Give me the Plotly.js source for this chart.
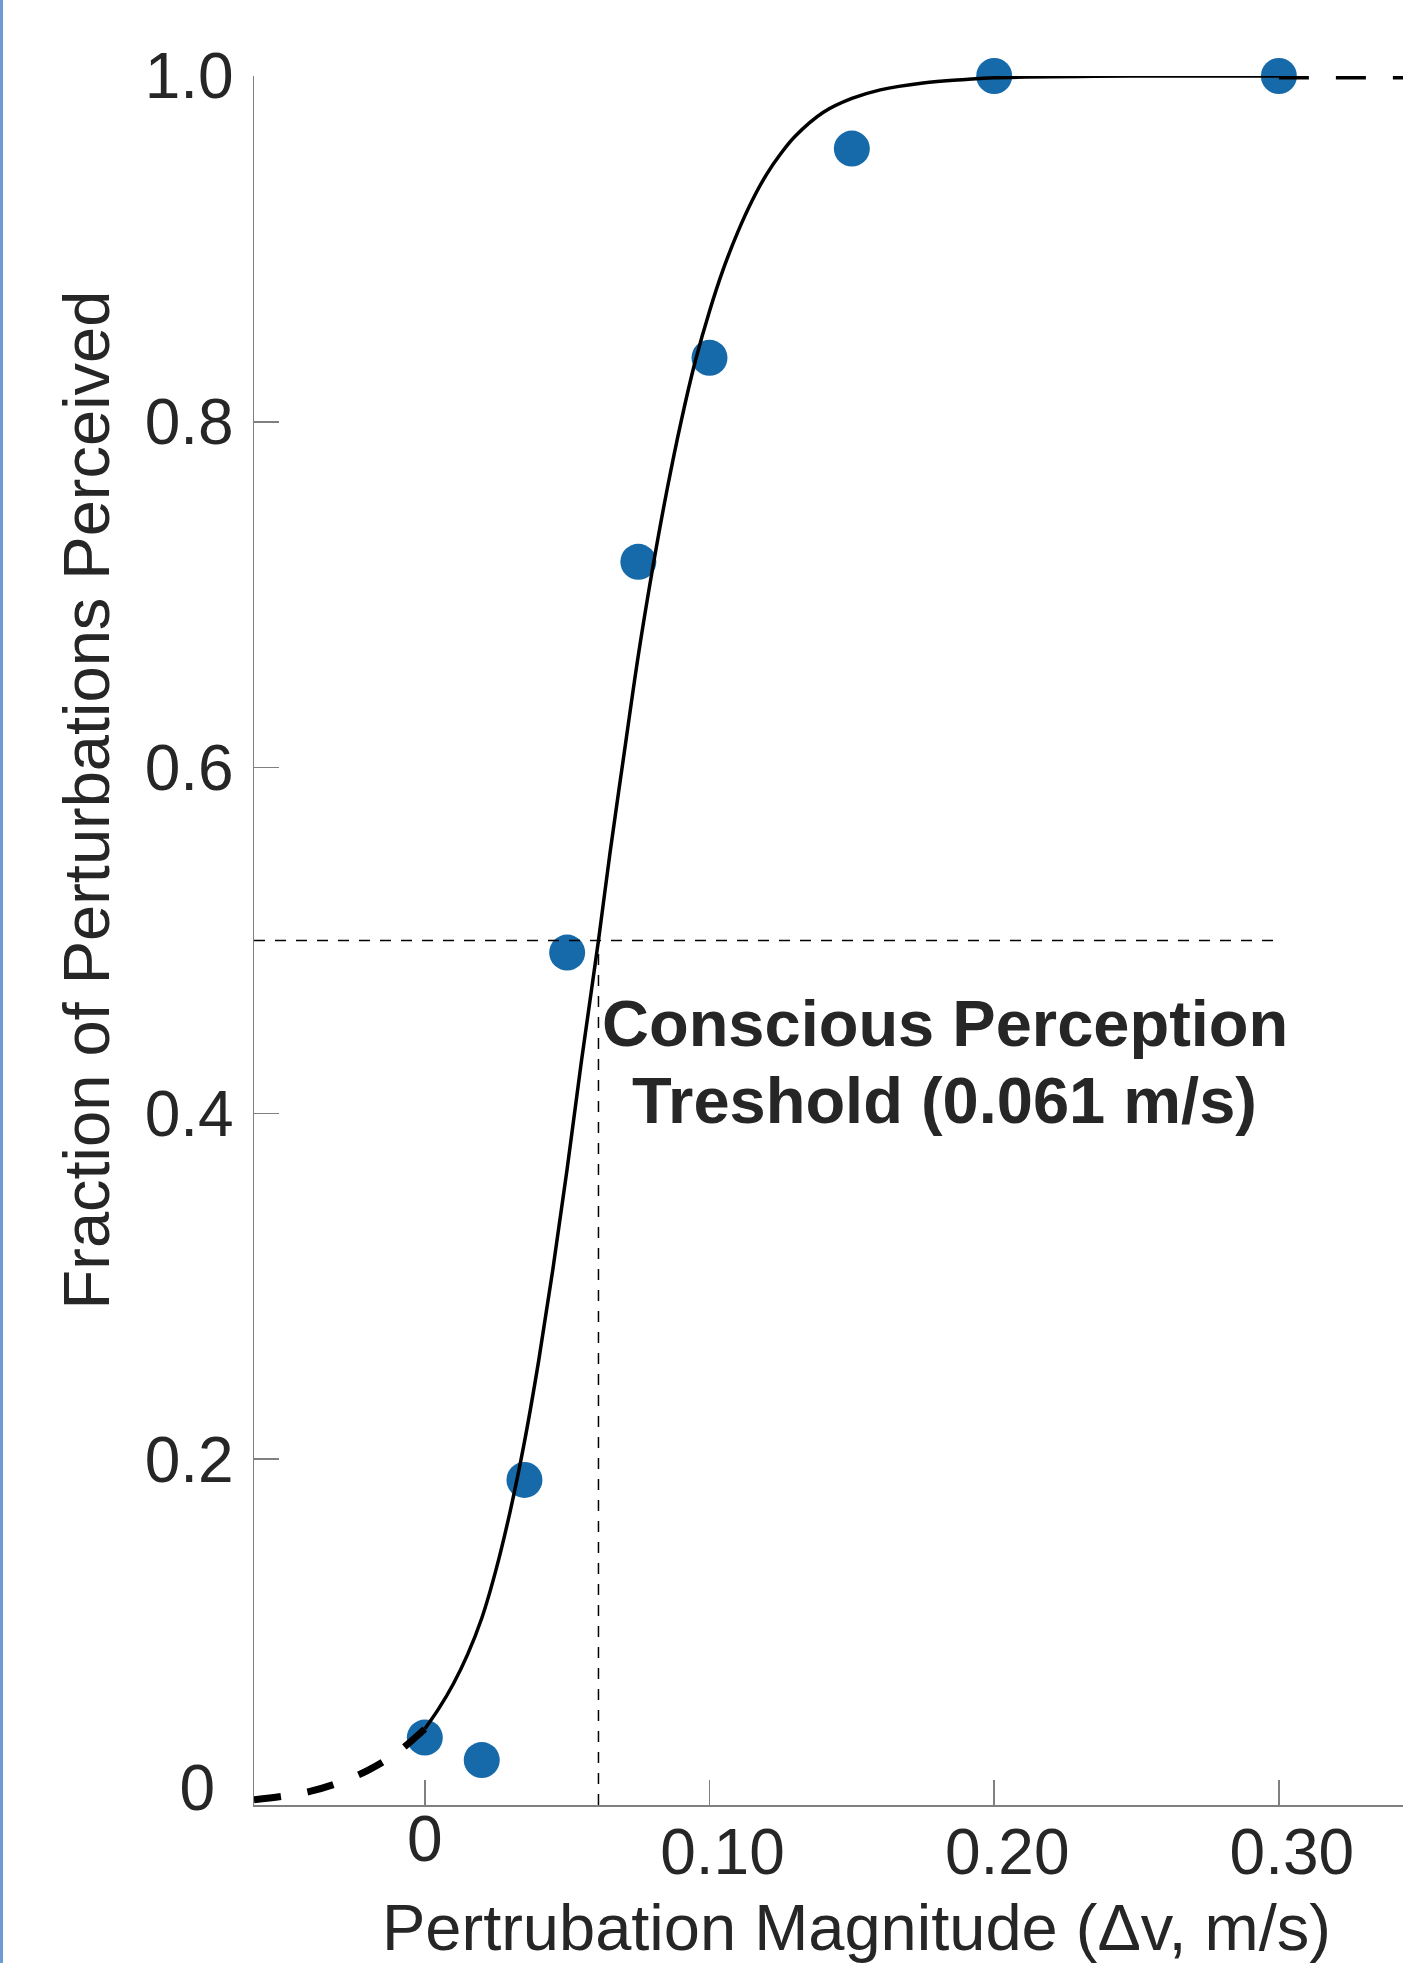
<!DOCTYPE html>
<html>
<head>
<meta charset="utf-8">
<script src="https://cdn.plot.ly/plotly-3.0.1.min.js"></script>
<style>html,body{margin:0;padding:0;background:#fff;}#chart{width:1403px;height:1963px;}</style>
</head>
<body>
<div id="chart"></div>
<script>
// ---- data ----
const magnitude = [0, 0.020, 0.035, 0.050, 0.075, 0.100, 0.150, 0.200, 0.300];
const fractionPerceived = [0.039, 0.026, 0.188, 0.493, 0.719, 0.837, 0.958, 1.0, 1.0];

const fitX = [0.000, 0.005, 0.010, 0.015, 0.020, 0.025, 0.030, 0.035, 0.040, 0.045, 0.050, 0.055, 0.061, 0.065, 0.070, 0.075,
              0.080, 0.085, 0.090, 0.095, 0.100, 0.105, 0.110, 0.115, 0.120, 0.125, 0.130, 0.140, 0.150, 0.160, 0.175, 0.190,
              0.200, 0.250, 0.300];
const fitY = [0.044, 0.056, 0.070, 0.087, 0.108, 0.136, 0.170, 0.210, 0.257, 0.310, 0.368, 0.430, 0.500, 0.550, 0.608, 0.665,
              0.715, 0.760, 0.800, 0.835, 0.864, 0.889, 0.910, 0.928, 0.943, 0.955, 0.965, 0.979, 0.987, 0.992, 0.996, 0.998,
              0.999, 1.000, 1.000];

const extLeftX = [-0.060, -0.050, -0.040, -0.030, -0.020, -0.010, 0.000];
const extLeftY = [0.003, 0.005, 0.008, 0.013, 0.020, 0.030, 0.044];
const extRightX = [0.300, 0.360];
const extRightY = [1.000, 1.000];

const threshold = 0.061;
const thresholdLevel = 0.5;

const xTickVals = [0.1, 0.2, 0.3];
const xTickText = ['0.10', '0.20', '0.30'];
const yTickVals = [0, 0.2, 0.4, 0.6, 0.8, 1.0];
const yTickText = ['', '0.2', '0.4', '0.6', '0.8', '1.0'];

const xTitle = 'Pertrubation Magnitude (\u0394v, m/s)';
const yTitle = 'Fraction of Perturbations Perceived';
const annotLine1 = 'Conscious Perception';
const annotLine2 = 'Treshold (' + threshold.toFixed(3) + ' m/s)';

// ---- layout constants ----
const W = 1403, H = 1963;
const M = {l: 254, r: 0, t: 76, b: 158};
const plotW = W - M.l - M.r, plotH = H - M.t - M.b;
const xRange = [-0.06, 0.3436];
const yRange = [0, 1];
const FONT = 'Liberation Sans, Arial, Helvetica, sans-serif';
const TXT = '#262626';
const AX = '#808080';

const traces = [
  {x: magnitude, y: fractionPerceived, type: 'scatter', mode: 'markers',
   marker: {size: 36, color: '#166aa9'}, cliponaxis: false, hoverinfo: 'skip'},
  {x: fitX, y: fitY, type: 'scatter', mode: 'lines', line: {color: '#000', width: 3.5, shape: 'spline', smoothing: 1},
   cliponaxis: false, hoverinfo: 'skip'},
  {x: extLeftX, y: extLeftY, type: 'scatter', mode: 'lines', xaxis: 'x2', yaxis: 'y2',
   line: {color: '#000', width: 7, dash: '27px,27px', shape: 'spline'}, cliponaxis: false, hoverinfo: 'skip'},
  {x: extRightX, y: extRightY, type: 'scatter', mode: 'lines',
   line: {color: '#000', width: 7, dash: '30px,27px'}, cliponaxis: false, hoverinfo: 'skip'},
  {x: [xRange[0], magnitude[magnitude.length - 1]], y: [thresholdLevel, thresholdLevel], type: 'scatter', mode: 'lines',
   line: {color: '#000', width: 1.5, dash: '11px,10px'}, hoverinfo: 'skip'},
  {x: [threshold, threshold], y: [yRange[0], thresholdLevel], type: 'scatter', mode: 'lines',
   line: {color: '#000', width: 1.5, dash: '11px,10px'}, hoverinfo: 'skip'}
];

const axisCommon = {
  showgrid: false, zeroline: false, ticks: 'inside', ticklen: 25, tickwidth: 1.5, tickcolor: AX,
  tickfont: {family: FONT, size: 64, color: TXT}
};

const layout = {
  width: W, height: H,
  margin: M,
  paper_bgcolor: '#fff', plot_bgcolor: '#fff',
  showlegend: false,
  font: {family: FONT, size: 64, color: TXT},
  xaxis: Object.assign({}, axisCommon, {range: xRange, tickmode: 'array', tickvals: xTickVals, ticktext: xTickText,
    showline: true, linecolor: AX, linewidth: 1.5, ticklabelshift: 13, ticklabelstandoff: -9}),
  xaxis2: Object.assign({}, axisCommon, {range: xRange, overlaying: 'x', anchor: 'y2', tickmode: 'array', tickvals: [0], ticktext: ['0'],
    showline: false, ticklabelstandoff: -9}),
  yaxis: Object.assign({}, axisCommon, {range: yRange, tickmode: 'array', tickvals: yTickVals, ticktext: yTickText,
    showline: true, linecolor: AX, linewidth: 1.5, ticklabelstandoff: 6}),
  yaxis2: Object.assign({}, axisCommon, {range: yRange, overlaying: 'y', anchor: 'x2', tickmode: 'array', tickvals: [0], ticktext: ['0'],
    showline: false, ticklen: 0, ticklabelshift: -17, ticklabelstandoff: 38}),
  annotations: [
    {text: annotLine1, xref: 'x', yref: 'y', x: 0.1826, y: 0.452, xanchor: 'center', yanchor: 'middle', showarrow: false,
     font: {family: FONT, size: 65, color: TXT, weight: 'bold'}},
    {text: annotLine2, xref: 'x', yref: 'y', x: 0.1826, y: 0.4075, xanchor: 'center', yanchor: 'middle', showarrow: false,
     font: {family: FONT, size: 65, color: TXT, weight: 'bold'}},
    {text: xTitle, xref: 'x', yref: 'paper', x: 0.1517, y: -(1927 - (H - M.b)) / plotH, xanchor: 'center', yanchor: 'middle',
     showarrow: false, font: {family: FONT, size: 65, color: TXT}},
    {text: yTitle, xref: 'paper', yref: 'y', x: (86 - M.l) / plotW, y: 0.581, xanchor: 'center', yanchor: 'middle',
     textangle: -90, showarrow: false, font: {family: FONT, size: 65, color: TXT}}
  ],
  shapes: [
    {type: 'rect', xref: 'paper', yref: 'paper', x0: -M.l / plotW, x1: (3 - M.l) / plotW,
     y0: -M.b / plotH, y1: (H - M.b) / plotH, fillcolor: '#6b9bd2', line: {width: 0}, layer: 'above'}
  ]
};

Plotly.newPlot('chart', traces, layout, {staticPlot: true, displayModeBar: false});
</script>
</body>
</html>
